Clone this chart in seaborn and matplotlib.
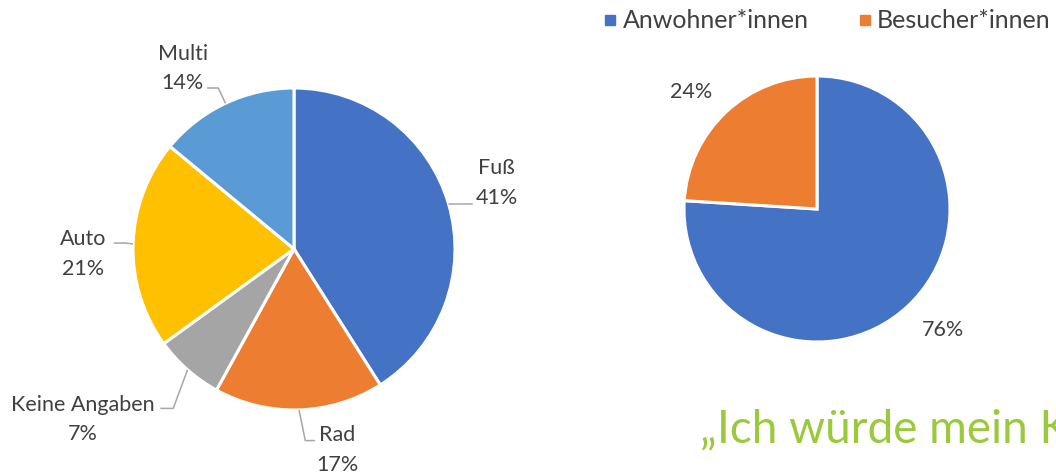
import numpy as np
import seaborn as sns
import matplotlib.pyplot as plt
from matplotlib.lines import Line2D

# left pie: how people get there
modes = ['Fuß', 'Rad', 'Keine Angaben', 'Auto', 'Multi']
mode_share = [41, 17, 7, 21, 14]
mode_colors = ['#4472C4', '#ED7D31', '#A5A5A5', '#FFC000', '#5B9BD5']

# right pie: residents vs visitors
groups = ['Anwohner*innen', 'Besucher*innen']
group_share = [76, 24]
group_colors = ['#4472C4', '#ED7D31']

quote = '„Ich würde mein K'

sns.set_theme(style='white')
plt.rcParams['font.family'] = ['Lato', 'DejaVu Sans']
txt_col = '#404040'
line_col = '#A6A6A6'

W, H = 1056, 474
L = 2.0
fig = plt.figure(figsize=(W / 100, H / 100), dpi=100)
fig.patch.set_facecolor('white')


def pie_axes(cx, cy, r):
    # place an axes so that a unit pie lands at pixel centre cx, cy with radius r
    s = 2 * r * L
    ax = fig.add_axes([(cx - s / 2) / W, (H - cy - s / 2) / H, s / W, s / H])
    ax.axis('off')
    return ax


def fix_limits(ax):
    # pie() resets the limits, so set them again afterwards
    ax.set_xlim(-L, L)
    ax.set_ylim(-L, L)
    ax.set_aspect('equal')


# ---- left pie
ax1 = pie_axes(294, 249, 161)
wedges1, _ = ax1.pie(mode_share, colors=mode_colors, startangle=90, counterclock=False,
                     wedgeprops=dict(edgecolor='white', linewidth=2.2))
fix_limits(ax1)

# label centres and leader line bends, in pie radius units
label_pos = [(1.26, 0.41), (0.27, -1.25), (-1.31, -1.06), (-1.31, -0.03), (-0.69, 1.12)]
leader_bends = [
    [(1.11, 0.28)],
    [(0.07, -1.19), (0.13, -1.19)],
    [(-0.75, -0.99), (-0.83, -0.99)],
    [(-1.05, 0.037), (-1.12, 0.037)],
    [(-0.47, 1.0), (-0.54, 1.0)],
]
for w, name, val, (lx, ly), bends in zip(wedges1, modes, mode_share, label_pos, leader_bends):
    mid = np.deg2rad((w.theta1 + w.theta2) / 2)
    ex, ey = np.cos(mid), np.sin(mid)
    ax1.text(lx, ly, f'{name}\n{val}%', ha='center', va='center', fontsize=15.5,
             color=txt_col, linespacing=1.6)
    pts = [(ex, ey)] + bends
    xs, ys = zip(*pts)
    ax1.plot(xs, ys, color=line_col, lw=1.1, solid_capstyle='butt')

# ---- right pie
ax2 = pie_axes(817, 209, 133)
wedges2, _, autotexts = ax2.pie(group_share, colors=group_colors, startangle=90, counterclock=False,
                                autopct='%1.0f%%', pctdistance=1.3,
                                wedgeprops=dict(edgecolor='white', linewidth=2.2))
fix_limits(ax2)
pct_pos = [(0.95, -0.91), (-0.95, 0.88)]
for t, p in zip(autotexts, pct_pos):
    t.set_position(p)
    t.set_fontsize(15.5)
    t.set_color(txt_col)

handles = [Line2D([], [], marker='s', linestyle='none', markersize=7.5,
                  markerfacecolor=c, markeredgecolor=c) for c in group_colors]
fig.legend(handles, groups, loc='center', bbox_to_anchor=(826 / W, 1 - 21 / H), ncol=2,
           frameon=False, fontsize=18, handletextpad=0.15, columnspacing=1.9,
           labelcolor=txt_col, handlelength=0.7)

fig.text(700 / W, 1 - 430 / H, quote, fontsize=33, color='#9ACA3C', va='center', ha='left')

fig.savefig('out.png', dpi=100, facecolor='white')
